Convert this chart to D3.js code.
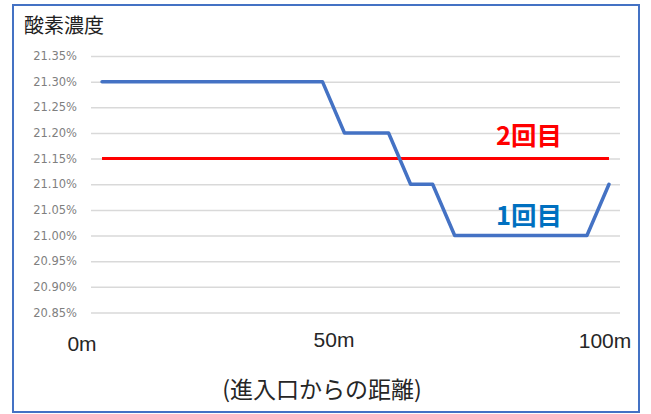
<!DOCTYPE html>
<html>
<head>
<meta charset="utf-8">
<script src="https://cdn.jsdelivr.net/npm/d3@7"></script>
<style>
  body { margin: 0; background: #fff; }
  svg { display: block; }
</style>
</head>
<body>
<div id="graph"></div>
<script>
// measuring points along the tunnel (24 points, 0m .. 100m)
const points = ["1","2","3","4","5","6","7","8","9","10","11","12",
                "13","14","15","16","17","18","19","20","21","22","23","24"];

// oxygen concentration (%)
const run1 = [21.30, 21.30, 21.30, 21.30, 21.30, 21.30, 21.30, 21.30, 21.30, 21.30, 21.30, 21.20,
              21.20, 21.20, 21.10, 21.10, 21.00, 21.00, 21.00, 21.00, 21.00, 21.00, 21.00, 21.10];
const run2 = [21.15, 21.15, 21.15, 21.15, 21.15, 21.15, 21.15, 21.15, 21.15, 21.15, 21.15, 21.15,
              21.15, 21.15, 21.15, 21.15, 21.15, 21.15, 21.15, 21.15, 21.15, 21.15, 21.15, 21.15];

const yTicks = [20.85, 20.90, 20.95, 21.00, 21.05, 21.10, 21.15, 21.20, 21.25, 21.30, 21.35];
const distLabels = ["0m", "50m", "100m"];
const seriesNames = ["1回目", "2回目"];

const width = 651, height = 414;

const svg = d3.select("#graph")
    .append("svg")
        .attr("width", width)
        .attr("height", height);

// outer frame
svg.append("rect")
    .attr("x", 13).attr("y", 5)
    .attr("width", 626).attr("height", 407)
    .attr("fill", "#fff")
    .attr("stroke", "#4472C4")
    .attr("stroke-width", 2);

const x = d3.scalePoint()
    .domain(points)
    .range([91, 620])
    .padding(0.5);

const y = d3.scaleLinear()
    .domain([20.85, 21.35])
    .range([312.5, 56]);

// y axis with gridlines
const yAxis = svg.append("g")
    .attr("transform", "translate(91,0)")
    .call(d3.axisLeft(y)
        .tickValues(yTicks)
        .tickSize(-529)
        .tickPadding(14)
        .tickFormat(d => d3.format(".2f")(d) + "%"));

yAxis.select(".domain").remove();
yAxis.selectAll(".tick line")
    .attr("stroke", "#d9d9d9")
    .attr("stroke-width", 1.5);
yAxis.selectAll(".tick text")
    .attr("fill", "#7f7f7f")
    .style("font-family", "DejaVu Sans")
    .style("font-size", "11.5px");

const line = d3.line()
    .x((d, i) => x(points[i]))
    .y(d => y(d));

svg.append("path")
    .datum(run2)
    .attr("fill", "none")
    .attr("stroke", "#FF0000")
    .attr("stroke-width", 3)
    .attr("d", line);

svg.append("path")
    .datum(run1)
    .attr("fill", "none")
    .attr("stroke", "#4472C4")
    .attr("stroke-width", 3.5)
    .attr("stroke-linejoin", "round")
    .attr("stroke-linecap", "round")
    .attr("d", line);

// title
svg.append("text")
    .attr("x", 24).attr("y", 33)
    .style("font-family", "Noto Sans CJK JP")
    .style("font-size", "20px")
    .attr("fill", "#222")
    .text("酸素濃度");

// distance labels (text boxes, slightly staggered as in the original)
const distPos = [[82, 351], [334, 347], [605, 348]];
svg.selectAll(".dist")
    .data(distLabels)
    .enter().append("text")
        .attr("class", "dist")
        .attr("x", (d, i) => distPos[i][0])
        .attr("y", (d, i) => distPos[i][1])
        .attr("text-anchor", "middle")
        .style("font-family", "Liberation Sans")
        .style("font-size", "21px")
        .attr("fill", "#262626")
        .text(d => d);

svg.append("text")
    .attr("x", 322).attr("y", 398)
    .attr("text-anchor", "middle")
    .style("font-family", "Noto Sans CJK JP")
    .style("font-size", "23px")
    .attr("fill", "#262626")
    .text("(進入口からの距離)");

// series labels
const labelPos = [[529, 225, "#0070C0"], [529, 145, "#FF0000"]];
svg.selectAll(".slabel")
    .data(seriesNames)
    .enter().append("text")
        .attr("class", "slabel")
        .attr("x", (d, i) => labelPos[i][0])
        .attr("y", (d, i) => labelPos[i][1])
        .attr("text-anchor", "middle")
        .style("font-family", "Noto Sans CJK JP")
        .style("font-size", "25.5px")
        .style("font-weight", "bold")
        .attr("fill", (d, i) => labelPos[i][2])
        .text(d => d);
</script>
</body>
</html>
